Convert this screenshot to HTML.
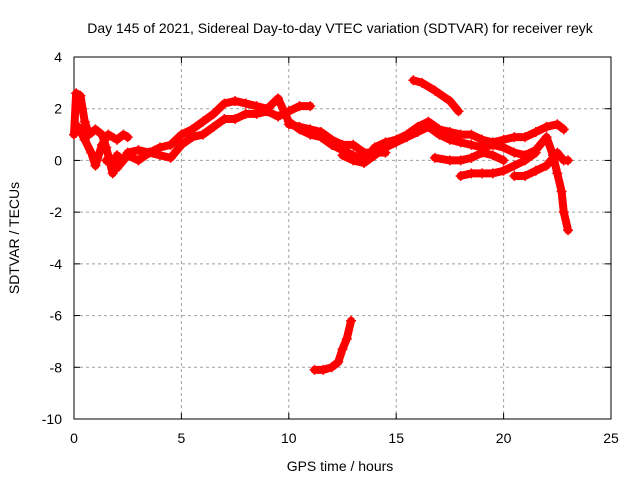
<!DOCTYPE html>
<html><head><meta charset="utf-8"><style>
body{margin:0;background:#fff}
svg{display:block;font-family:"Liberation Sans",sans-serif}
</style></head><body>
<svg id="chart" width="640" height="480">
<g id="grid"></g>
<g id="axes"></g>
<g id="series"></g>
<text x="340" y="33" text-anchor="middle" font-size="14">Day 145 of 2021, Sidereal Day-to-day VTEC variation (SDTVAR) for receiver reyk</text>
<text x="340" y="471" text-anchor="middle" font-size="14">GPS time / hours</text>
<text transform="translate(19,238) rotate(-90)" text-anchor="middle" font-size="14">SDTVAR / TECUs</text>
</svg>
<script>
const xTicks=[0,5,10,15,20,25];
const yTicks=[4,2,0,-2,-4,-6,-8,-10];
const s1=[[0,1.0],[0.1,2.6],[0.3,2.5],[0.5,1.5],[0.7,1.0],[1.0,1.2],[1.3,1.0],[1.5,0.5],[1.8,-0.5],[2.0,0.2],[2.3,0.0],[2.5,0.3],[3,0.4],[3.5,0.3],[4,0.5],[4.5,0.6],[5,1.0],[5.5,1.2],[6,1.5],[6.5,1.8],[7,2.2],[7.5,2.3],[8,2.2],[8.5,2.1],[9,2.0],[9.5,2.4],[10,1.5],[10.5,1.2],[11,1.0],[11.5,0.9],[12,0.6],[12.5,0.4],[13,0.2],[13.5,0.0],[14,0.5],[14.5,0.7],[15,0.8],[15.5,1.0],[16,1.3],[16.5,1.5],[17,1.2],[17.5,1.1],[18,1.0],[18.5,1.0],[19,0.8],[19.5,0.7],[20,0.8],[20.5,0.9],[21,0.9],[21.5,1.1],[22,1.3],[22.5,1.4],[22.8,1.2]];
const s2=[[0.2,1.3],[0.5,0.8],[0.8,0.3],[1.0,-0.2],[1.3,0.6],[1.6,1.0],[2.0,0.8],[2.3,1.0],[2.5,0.9]];
const s3=[[1.5,0.0],[2,-0.3],[2.5,0.2],[3,0.0],[3.5,0.3],[4,0.2],[4.5,0.1],[5,0.6],[5.5,0.9],[6,1.0],[6.5,1.3],[7,1.6],[7.5,1.6],[8,1.8],[8.5,1.8],[9,1.9],[9.5,1.7],[10,1.9],[10.5,2.1],[11,2.1]];
const s4=[[10,1.4],[10.5,1.3],[11,1.2],[11.5,1.1],[12,0.8],[12.5,0.6],[13,0.6],[13.5,0.3],[14,0.3],[14.5,0.3]];
const s5=[[12.5,0.2],[13,0.0],[13.5,-0.1],[14,0.2],[14.5,0.5],[15,0.7],[15.5,0.9],[16,1.1],[16.5,1.3],[17,1.0],[17.5,0.8],[18,0.7],[18.5,0.6],[19,0.5],[19.5,0.6],[20,0.5],[20.5,0.3],[21,0.2],[21.5,0.4],[22,0.9],[22.3,0.2],[22.5,-0.5],[22.7,-1.2],[22.8,-2.0],[23,-2.7]];
const s6=[[15.8,3.1],[16.2,3.0],[16.8,2.7],[17.5,2.3],[17.9,1.9]];
const s7=[[16.8,0.1],[17.5,0.0],[18,0.0],[18.5,0.1],[19,0.3],[19.5,0.2],[20,0.0]];
const s8=[[18,-0.6],[18.5,-0.5],[19,-0.5],[19.5,-0.5],[20,-0.4],[20.5,-0.2],[21,0.0],[21.5,0.3]];
const s9=[[20.5,-0.6],[21,-0.6],[21.5,-0.4],[22,-0.2],[22.5,0.3],[22.8,0.0],[23,0.0]];
const s10=[[11.2,-8.1],[11.6,-8.1],[12,-8.0],[12.3,-7.8],[12.5,-7.3],[12.7,-6.9],[12.9,-6.2]];
const allSeries=[s1,s2,s3,s4,s5,s6,s7,s8,s9,s10];

const L=74,R=611,T=57,B=419;
const X=v=>L+(v-0)/(25-0)*(R-L);
const Y=v=>B-(v+10)/(14)*(B-T);
const NS="http://www.w3.org/2000/svg";
function mk(tag,attrs,parent){const e=document.createElementNS(NS,tag);for(const k in attrs)e.setAttribute(k,attrs[k]);parent.appendChild(e);return e;}
const grid=document.getElementById('grid'),axes=document.getElementById('axes'),ser=document.getElementById('series');
xTicks.forEach(t=>{
  if(t>0&&t<25){const g=mk('line',{x1:X(t),x2:X(t),y1:T,y2:B,stroke:'#a0a0a0','stroke-dasharray':'3,3'},grid);
  
  }
  mk('line',{x1:X(t),x2:X(t),y1:B,y2:B-6,stroke:'#000'},axes);
  mk('line',{x1:X(t),x2:X(t),y1:T,y2:T+6,stroke:'#000'},axes);
  const tx=mk('text',{x:X(t),y:B+24,'text-anchor':'middle','font-size':14},axes);tx.textContent=t;
  
  
});
yTicks.forEach(t=>{
  if(t>-10&&t<4){const g=mk('line',{x1:L,x2:R,y1:Y(t),y2:Y(t),stroke:'#a0a0a0','stroke-dasharray':'3,3'},grid);
  
  }
  mk('line',{x1:L,x2:L+6,y1:Y(t),y2:Y(t),stroke:'#000'},axes);
  mk('line',{x1:R,x2:R-6,y1:Y(t),y2:Y(t),stroke:'#000'},axes);
  const tx=mk('text',{x:L-12,y:Y(t)+5,'text-anchor':'end','font-size':14},axes);tx.textContent=t;
  
  
});
const fr=mk('rect',{x:L,y:T,width:R-L,height:B-T,fill:'none',stroke:'#000'},axes);


allSeries.forEach((s,i)=>{
  const pl=mk('polyline',{points:s.map(p=>X(p[0])+','+Y(p[1])).join(' '),fill:'none',stroke:'#ff0000','stroke-width':8,'stroke-linejoin':'round','stroke-linecap':'round'},ser);
  
  
  s.forEach(p=>{
    const x=X(p[0]),y=Y(p[1]);
    const m=mk('path',{d:`M${x-5},${y}H${x+5}M${x},${y-5}V${y+5}`,stroke:'#ff0000','stroke-width':1.5},ser);
    
    
  });
});
</script>
</body></html>
